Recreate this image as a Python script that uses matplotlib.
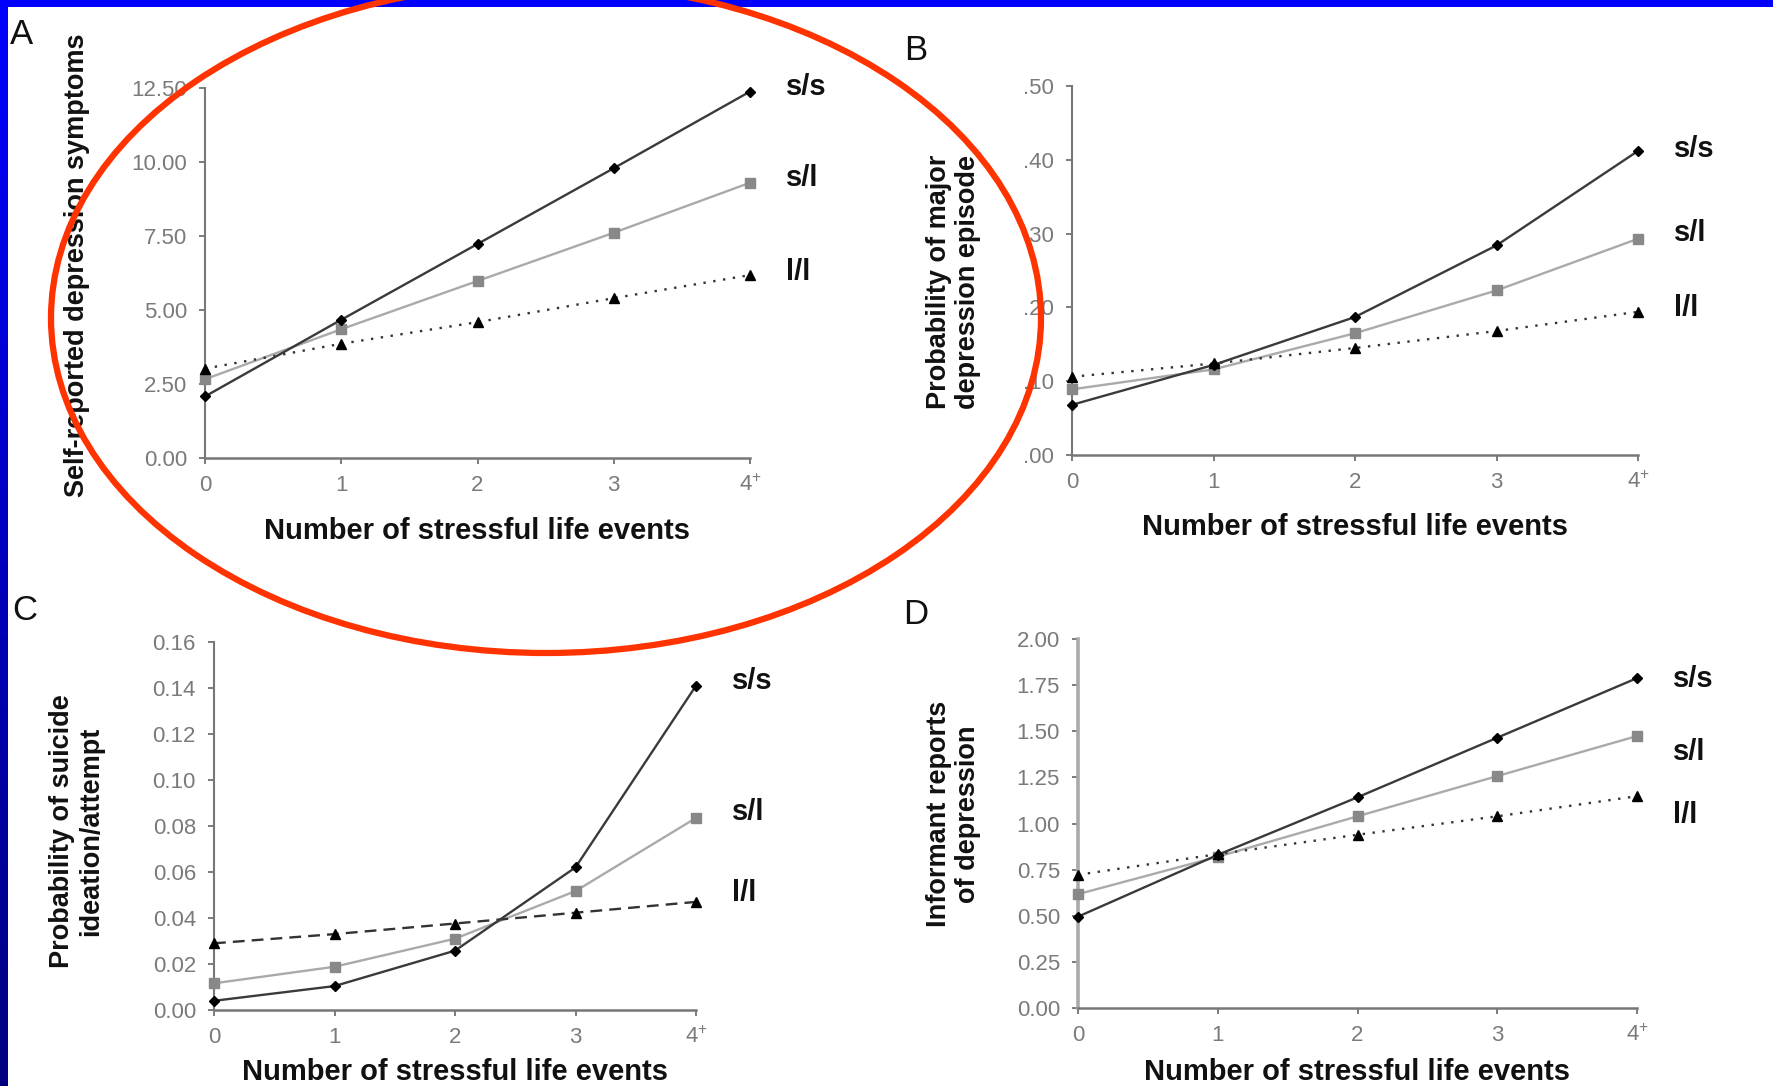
import matplotlib

matplotlib.use("Agg")
import matplotlib.pyplot as plt
import numpy as np
from matplotlib.patches import Ellipse

plt.rcParams["font.family"] = ["Liberation Sans", "DejaVu Sans"]
plt.rcParams["mathtext.fontset"] = "custom"
plt.rcParams["mathtext.rm"] = "Liberation Sans"

# data
EVENTS = [0, 1, 2, 3, 4]
EVENT_LABELS = ["0", "1", "2", "3", "4$^{+}$"]
GENOTYPES = ["s/s", "s/l", "l/l"]

SELF_SS = [2.08, 4.67, 7.23, 9.79, 12.38]
SELF_SL = [2.66, 4.35, 5.98, 7.61, 9.30]
SELF_LL = [3.02, 3.86, 4.59, 5.40, 6.18]

MDE_SS = [0.068, 0.122, 0.187, 0.284, 0.412]
MDE_SL = [0.089, 0.116, 0.165, 0.223, 0.293]
MDE_LL = [0.106, 0.124, 0.145, 0.168, 0.194]

SUICIDE_SS = [0.004, 0.0104, 0.0258, 0.062, 0.141]
SUICIDE_SL = [0.0116, 0.0188, 0.031, 0.0517, 0.0835]
SUICIDE_LL = [0.029, 0.033, 0.0376, 0.0423, 0.047]

INFORMANT_SS = [0.495, 0.83, 1.142, 1.465, 1.788]
INFORMANT_SL = [0.617, 0.82, 1.039, 1.257, 1.474]
INFORMANT_LL = [0.722, 0.834, 0.939, 1.039, 1.148]

W, H = 1773, 1086


def px_rect(x0, x1, y_top, y_bottom):
    return [x0 / W, 1 - y_bottom / H, (x1 - x0) / W, (y_bottom - y_top) / H]


PANELS = [
    dict(letter="A", letter_xy=(22, 34), rect=px_rect(205, 750, 88, 458),
         series=[SELF_SS, SELF_SL, SELF_LL], ll_dash=(1, 3.2),
         yticks=[0, 2.5, 5, 7.5, 10, 12.5], fmt=lambda v: f"{v:.2f}",
         ylabel="Self-reported depression symptoms", ylab_xy=(-0.235, 0.52),
         xlab_y=-0.197, lab_dy=[5, 5, 3], left_col="#777777", left_lw=1.5),
    dict(letter="B", letter_xy=(916, 51), rect=px_rect(1072, 1638, 86, 455),
         series=[MDE_SS, MDE_SL, MDE_LL], ll_dash=(1, 3.2),
         yticks=[0, 0.1, 0.2, 0.3, 0.4, 0.5], fmt=lambda v: f"{v:.2f}"[1:],
         ylabel="Probability of major\ndepression episode", ylab_xy=(-0.21, 0.47),
         xlab_y=-0.194, lab_dy=[2, 6, 4], left_col="#777777", left_lw=1.5),
    dict(letter="C", letter_xy=(25, 611), rect=px_rect(214, 696, 642, 1010),
         series=[SUICIDE_SS, SUICIDE_SL, SUICIDE_LL], ll_dash=(5, 3),
         yticks=[0, 0.02, 0.04, 0.06, 0.08, 0.10, 0.12, 0.14, 0.16],
         fmt=lambda v: f"{v:.2f}",
         ylabel="Probability of suicide\nideation/attempt", ylab_xy=(-0.285, 0.486),
         xlab_y=-0.168, lab_dy=[5, 6, 9], left_col="#777777", left_lw=1.5),
    dict(letter="D", letter_xy=(916, 614), rect=px_rect(1078, 1637, 639, 1008),
         series=[INFORMANT_SS, INFORMANT_SL, INFORMANT_LL], ll_dash=(1, 3.2),
         yticks=[0, 0.25, 0.5, 0.75, 1.0, 1.25, 1.5, 1.75, 2.0],
         fmt=lambda v: f"{v:.2f}",
         ylabel="Informant reports\nof depression", ylab_xy=(-0.222, 0.526),
         xlab_y=-0.173, lab_dy=[-1, -16, -19], left_col="#aaaaaa", left_lw=2.6),
]


def draw_panel(fig, p):
    ax = fig.add_axes(p["rect"])
    ss, sl, ll = p["series"]
    ax.plot(EVENTS, sl, color="#aaaaaa", lw=1.7, marker="s", ms=7,
            mfc="#888888", mec="#888888", clip_on=False, zorder=3)
    ax.plot(EVENTS, ll, color="#333333", lw=1.7, dashes=p["ll_dash"], marker="^",
            ms=7, mfc="black", mec="black", clip_on=False, zorder=4)
    ax.plot(EVENTS, ss, color="#3a3a3a", lw=1.7, marker="D", ms=5.5,
            mfc="black", mec="black", clip_on=False, zorder=5)

    for vals, name, dy in zip(p["series"], GENOTYPES, p["lab_dy"]):
        ax.annotate(name, (EVENTS[-1], vals[-1]), xytext=(36, dy),
                    textcoords="offset pixels", ha="left", va="center",
                    fontsize=21, fontweight="bold", color="#111111",
                    annotation_clip=False)

    ax.set_xlim(0, 4)
    ax.set_ylim(p["yticks"][0], p["yticks"][-1])
    ax.set_xticks(EVENTS)
    ax.set_xticklabels(EVENT_LABELS)
    ax.set_yticks(p["yticks"])
    ax.set_yticklabels([p["fmt"](v) for v in p["yticks"]])
    ax.tick_params(axis="both", direction="out", length=4, width=1.2,
                   color="#666666", labelcolor="#7a7a7a", labelsize=16)
    ax.tick_params(axis="x", pad=8)
    ax.tick_params(axis="y", pad=9)

    for side in ("top", "right"):
        ax.spines[side].set_visible(False)
    ax.spines["bottom"].set_color("#777777")
    ax.spines["bottom"].set_linewidth(1.8)
    ax.spines["left"].set_color(p["left_col"])
    ax.spines["left"].set_linewidth(p["left_lw"])

    ax.set_xlabel("Number of stressful life events", fontsize=21,
                  fontweight="bold", color="#111111")
    ax.xaxis.set_label_coords(0.5, p["xlab_y"])
    ax.xaxis.label.set_va("center")
    ax.set_ylabel(p["ylabel"], fontsize=19.5, fontweight="bold",
                  color="#111111", linespacing=1.15)
    ax.yaxis.set_label_coords(*p["ylab_xy"])
    ax.yaxis.label.set_va("center")

    fig.text(p["letter_xy"][0] / W, 1 - p["letter_xy"][1] / H, p["letter"],
             fontsize=25, color="#111111", ha="center", va="center")
    return ax


fig = plt.figure(figsize=(W / 100, H / 100), dpi=100)
fig.patch.set_facecolor("white")

for panel in PANELS:
    draw_panel(fig, panel)

# slide frame: blue bar on top, fading blue bar down the left edge
top = fig.add_axes([0, 1 - 7 / H, 1, 7 / H])
top.set_axis_off()
top.add_patch(plt.Rectangle((0, 0), 1, 1, color="#0000ff", transform=top.transAxes))

left = fig.add_axes([0, 0, 8 / W, 1])
grad = np.linspace(1.0, 0.5, 256)[:, None]
rgb = np.zeros((256, 1, 3))
rgb[..., 2] = grad
left.imshow(rgb, aspect="auto", extent=(0, 1, 0, 1))
left.set_axis_off()

# red highlight ring around panel A
ring = Ellipse((546 / W, 1 - 318 / H), 2 * 495 / W, 2 * 335 / H,
               transform=fig.transFigure, fill=False, edgecolor="#ff3300",
               linewidth=4.5, zorder=10)
fig.add_artist(ring)

fig.savefig("out.png", dpi=100, facecolor="white")
